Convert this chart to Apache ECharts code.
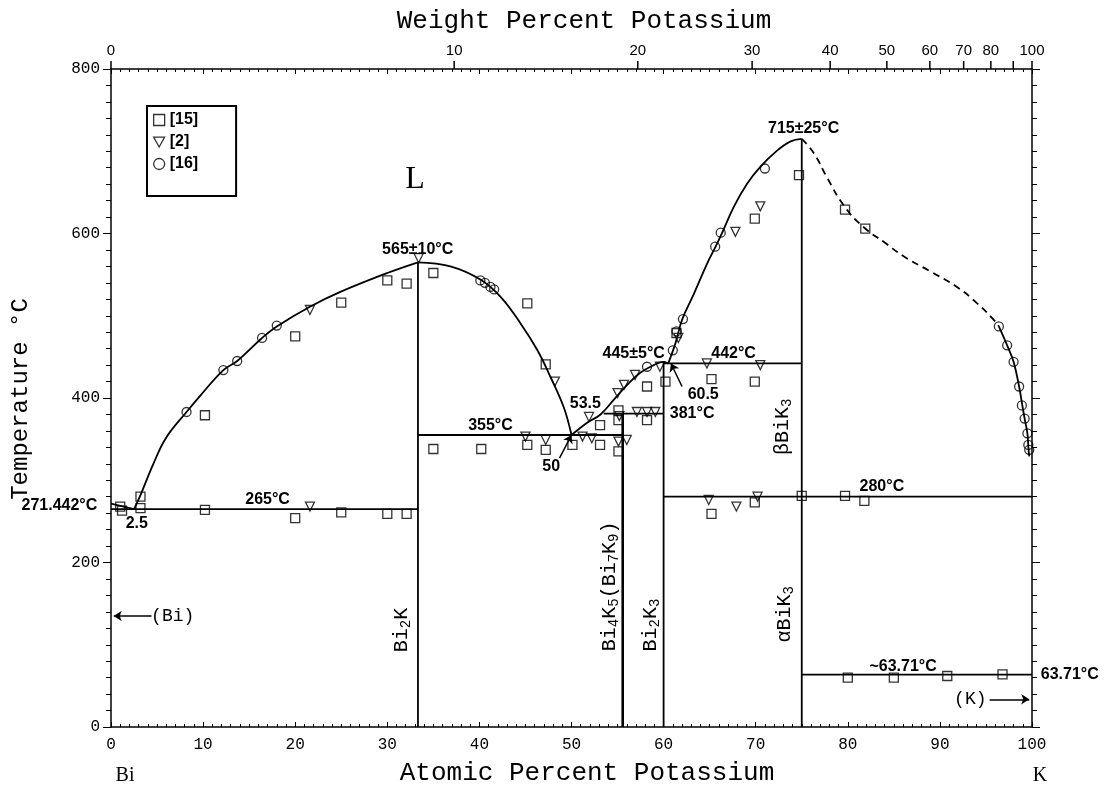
<!DOCTYPE html>
<html><head><meta charset="utf-8">
<script src="https://cdn.jsdelivr.net/npm/echarts@6/dist/echarts.min.js"></script>
<style>html,body{margin:0;padding:0;background:#fff}#c{width:1108px;height:786px}</style>
</head><body><div id="c"></div><script>
// ---------- data (atomic % K, temperature °C) ----------
const squares15 = [[1.0,268],[1.2,263],[3.2,280],[3.2,266],[10.2,379],[10.2,264],[20,475],[20,254],[25,516],[25,261],[30,543],[30,259],[32.1,539],[32.1,259],[35,552],[35,338],[40.2,338],[45.2,515],[45.2,343],[47.2,441],[47.2,337],[50.1,343],[53.1,367],[53.1,343],[55.1,385],[55.1,373],[55.1,335],[58.2,414],[58.2,373],[60.2,420],[61.4,479],[65.2,423],[65.2,259],[69.9,618],[69.9,420],[69.9,273],[74.7,671],[75,281],[79.7,629],[79.7,281],[81.9,606],[81.8,275],[80,60],[85,60],[90.8,62],[96.8,64]];
const triangles2 = [[21.6,507],[21.6,268],[33.4,570],[45,353],[47.2,349],[48.2,420],[51.2,353],[52.2,351],[55.1,347],[56.0,349],[51.9,377],[55.0,406],[55.7,416],[56.9,428],[59.6,438],[55.2,378],[57.1,383],[58.2,383],[59.1,383],[61.6,473],[64.7,442],[70.5,440],[67.8,602],[70.5,633],[64.9,276],[67.9,268],[70.2,280]];
const circles16 = [[8.2,383],[12.2,434],[13.7,445],[16.4,473],[18.0,488],[40.1,543],[40.6,540],[41.2,535],[41.6,532],[58.2,438],[61.0,458],[61.4,481],[62.1,496],[65.6,584],[66.2,601],[71.0,679],[96.4,487],[97.3,464],[98.0,444],[98.6,414],[98.9,391],[99.2,375],[99.5,357],[99.6,343],[99.7,337]];

const liquidusBiSide = [[0,271.442],[2.5,265]];
const liquidusA = [[2.5,265],[3.2,282],[4.6,320],[6,352],[8.2,383],[9.7,403],[12.2,434],[13.7,445],[16.4,473],[18,487],[21.6,511],[24.9,529],[30,552],[33.33,565]];
const liquidusB = [[33.33,565],[36.85,560],[40.1,544],[42.3,523],[44.45,491],[46.3,458],[47.7,426],[49.15,389],[50,355]];
const liquidusC = [[50,355],[51.7,370],[53.15,380],[54.6,398],[56.05,416],[57.5,431],[58.95,440],[60,444],[60.5,442]];
const liquidusD = [[60.5,442],[61.3,467],[62,495],[63.3,527],[64.75,564],[65.65,584],[66.4,602],[67.65,633],[69.1,661],[70.5,681],[72.35,701],[73.8,712],[75,715]];
const liquidusDashed = [[75,715],[76.3,698],[77.7,669],[79.7,632],[81.8,607],[84,589],[86.1,572],[88.95,554],[91.85,535],[94.05,515],[95.85,495],[96.4,487]];
const liquidusK = [[96.4,487],[97.3,464],[98,444],[98.6,414],[98.95,391],[99.2,375],[99.5,357],[99.6,341],[99.7,329]];

const verticals = [[33.33,0,565],[55.56,0,381],[60,0,445],[75,0,715]];
const horizontals = [[0,33.33,265],[33.33,55.56,355],[53.5,60,381],[60,75,442],[60,100,280],[75,100,63.71]];

const arrows = [[[4.4,135],[0.3,135]],[[95.4,33.7],[99.7,33.7]],[[48.7,327],[50,355]],[[62.0,414],[60.8,442]]];

const annotations = [['565±10°C',33.3,580],['265°C',17,276],['2.5',2.8,247],['271.442°C',-5.6,269],['355°C',41.2,367],['53.5',51.5,393],['50',47.8,316],['445±5°C',56.75,454],['442°C',67.6,454],['60.5',64.3,404],['381°C',63.1,381],['715±25°C',75.2,727],['280°C',83.7,292],['~63.71°C',86.0,74],['63.71°C',104.1,64]];
const elementLabels = [['(Bi)',6.7,135],['(K)',93.3,34]];
const regionLabels = [['L',33,665]];
const phaseLabels = [['Bi2K',31.6,118],['Bi4K5(Bi7K9)',54.2,171],['Bi2K3',58.6,124],['αBiK3',73.2,137],['βBiK3',72.9,365]];

const wtTicks = [0,10,20,30,40,50,60,70,80,90,100];
const wtTickLabels = ['0','10','20','30','40','50','60','70','80','','100'];

// ---------- helpers ----------
function wtToAt(w){ const a=w/39.098, b=(100-w)/208.98; return 100*a/(a+b); }
function richPhase(t){
  let out='', buf='';
  for (const ch of t){
    if (/\d/.test(ch)){ if(buf){out+='{n|'+buf+'}';buf='';} out+='{s|'+ch+'}'; }
    else buf+=ch;
  }
  if(buf) out+='{n|'+buf+'}';
  return out;
}
const BLK='#000';
const lineBase = {type:'line', symbol:'none', showSymbol:false, silent:true, z:3, lineStyle:{color:BLK,width:1.8}, animation:false};
const series = [];
function addLine(data, extra){ series.push(Object.assign({}, lineBase, {data}, extra||{})); }
addLine(liquidusBiSide);
addLine(liquidusA,{smooth:0.4});
addLine(liquidusB,{smooth:0.4});
addLine(liquidusC,{smooth:0.4});
addLine(liquidusD,{smooth:0.4});
addLine(liquidusDashed,{smooth:0.5,lineStyle:{color:BLK,width:1.8,type:[7,5]}});
addLine(liquidusK,{smooth:0.4});
verticals.forEach(v=>addLine([[v[0],v[1]],[v[0],v[2]]],{lineStyle:{color:BLK,width:v[0]===55.56?2.6:1.8}}));
horizontals.forEach(h=>addLine([[h[0],h[2]],[h[1],h[2]]]));

const symStyle = {color:'rgba(0,0,0,0)', borderColor:BLK, borderWidth:1.3};
series.push({name:'[15]', type:'scatter', symbol:'rect', symbolSize:9, itemStyle:symStyle, data:squares15, z:5});
series.push({name:'[2]', type:'scatter', symbol:'triangle', symbolRotate:180, symbolSize:9, itemStyle:symStyle, data:triangles2, z:5});
series.push({name:'[16]', type:'scatter', symbol:'circle', symbolSize:9, itemStyle:symStyle, data:circles16, z:5});

series.push({type:'lines', coordinateSystem:'cartesian2d', silent:true, z:6,
  symbol:['none','arrow'], symbolSize:8,
  lineStyle:{color:BLK,width:1.5,opacity:1},
  data: arrows.map(a=>({coords:a}))});

function textSeries(list, font, rot, rich){
  return {type:'custom', xAxisIndex:0, yAxisIndex:0, clip:false, silent:true, z:9,
    data: list.map((a,i)=>[a[1],a[2],i]),
    renderItem:function(params, api){
      const p = api.coord([api.value(0), api.value(1)]);
      const t = list[api.value(2)][0];
      const st = {text: rich?richPhase(t):t, x:0, y:0, textAlign:'center', textVerticalAlign:'middle', align:'center', verticalAlign:'middle', font:font, fill:BLK};
      if (rich) st.rich = rich;
      return {type:'text', x:p[0], y:p[1], rotation: rot||0, style:st};
    }};
}
series.push(textSeries(annotations,'bold 16px "Liberation Sans"'));
series.push(textSeries(elementLabels,'18px "Liberation Mono"'));
series.push(textSeries(regionLabels,'32px "Liberation Serif"'));
series.push(textSeries(phaseLabels,'20px "Liberation Mono"', Math.PI/2,
  {n:{font:'20px "Liberation Mono"', fill:BLK}, s:{font:'14px "Liberation Mono"', fill:BLK, padding:[9,0,0,0]}}));

// top weight-percent axis
series.push({type:'custom', xAxisIndex:0, yAxisIndex:0, clip:false, silent:true, z:8,
  data: wtTicks.map((w,i)=>[wtToAt(w),800,i]),
  renderItem:function(params, api){
    const p = api.coord([api.value(0), api.value(1)]);
    const i = api.value(2);
    return {type:'group', children:[
      {type:'line', shape:{x1:p[0],y1:p[1],x2:p[0],y2:p[1]-8}, style:{stroke:BLK,lineWidth:1.5}},
      {type:'text', x:p[0], y:p[1]-11, style:{text:wtTickLabels[i], x:0, y:0, textAlign:'center', textVerticalAlign:'bottom', align:'center', verticalAlign:'bottom', font:'15px "Liberation Sans"', fill:BLK}}
    ]};
  }});

const axLine = {show:true, onZero:false, lineStyle:{color:BLK,width:1.5}};
const option = {
  animation:false,
  backgroundColor:'#fff',
  grid:{left:111, right:76, top:69, bottom:59, containLabel:false, outerBoundsMode:'none'},
  legend:{data:['[15]',{name:'[2]', icon:'path://M0,0 L10,0 L5,9 Z'},'[16]'], orient:'vertical', left:147, top:106,
    padding:[6,38,24,6], itemGap:6, itemWidth:11, itemHeight:11,
    borderColor:BLK, borderWidth:2, backgroundColor:'#fff',
    itemStyle:{color:'rgba(0,0,0,0)', borderColor:BLK, borderWidth:1.3},
    textStyle:{fontFamily:'Liberation Sans', fontSize:16, fontWeight:'bold', color:BLK, lineHeight:15}},
  xAxis:[
    {type:'value', min:0, max:100, interval:10, position:'bottom', axisLine:axLine,
     axisTick:{show:true, inside:true, length:5, lineStyle:{color:BLK}},
     minorTick:{show:true, splitNumber:10, length:3, lineStyle:{color:BLK}},
     splitLine:{show:false},
     axisLabel:{color:BLK, fontFamily:'Liberation Mono', fontSize:16, margin:10}},
    {type:'value', min:0, max:100, interval:10, position:'top', axisLine:axLine,
     axisTick:{show:true, inside:true, length:5, lineStyle:{color:BLK}},
     minorTick:{show:true, splitNumber:10, length:3, lineStyle:{color:BLK}},
     splitLine:{show:false}, axisLabel:{show:false}}
  ],
  yAxis:[
    {type:'value', min:0, max:800, interval:200, position:'left', axisLine:axLine,
     axisTick:{show:true, inside:false, length:8, lineStyle:{color:BLK}},
     minorTick:{show:true, splitNumber:10, length:5, lineStyle:{color:BLK}},
     splitLine:{show:false},
     axisLabel:{color:BLK, fontFamily:'Liberation Mono', fontSize:16, margin:11}},
    {type:'value', min:0, max:800, interval:200, position:'right', axisLine:axLine,
     axisTick:{show:true, inside:false, length:8, lineStyle:{color:BLK}},
     minorTick:{show:true, splitNumber:10, length:5, lineStyle:{color:BLK}},
     splitLine:{show:false}, axisLabel:{show:false}}
  ],
  graphic:[
    {type:'text', style:{text:'Weight Percent Potassium', font:'26px "Liberation Mono"', fill:BLK, textAlign:'center', textVerticalAlign:'middle'}, x:584, y:21},
    {type:'text', style:{text:'Atomic Percent Potassium', font:'26px "Liberation Mono"', fill:BLK, textAlign:'center', textVerticalAlign:'middle'}, x:587, y:773},
    {type:'text', style:{text:'Temperature °C', font:'24px "Liberation Mono"', fill:BLK, textAlign:'center', textVerticalAlign:'middle'}, x:21, y:399, rotation:Math.PI/2},
    {type:'text', style:{text:'Bi', font:'20px "Liberation Serif"', fill:BLK, textAlign:'center', textVerticalAlign:'middle'}, x:125, y:776},
    {type:'text', style:{text:'K', font:'20px "Liberation Serif"', fill:BLK, textAlign:'center', textVerticalAlign:'middle'}, x:1040, y:776}
  ],
  series:series
};
const chart = echarts.init(document.getElementById('c'), null, {renderer:'canvas'});
chart.setOption(option);
</script></body></html>
